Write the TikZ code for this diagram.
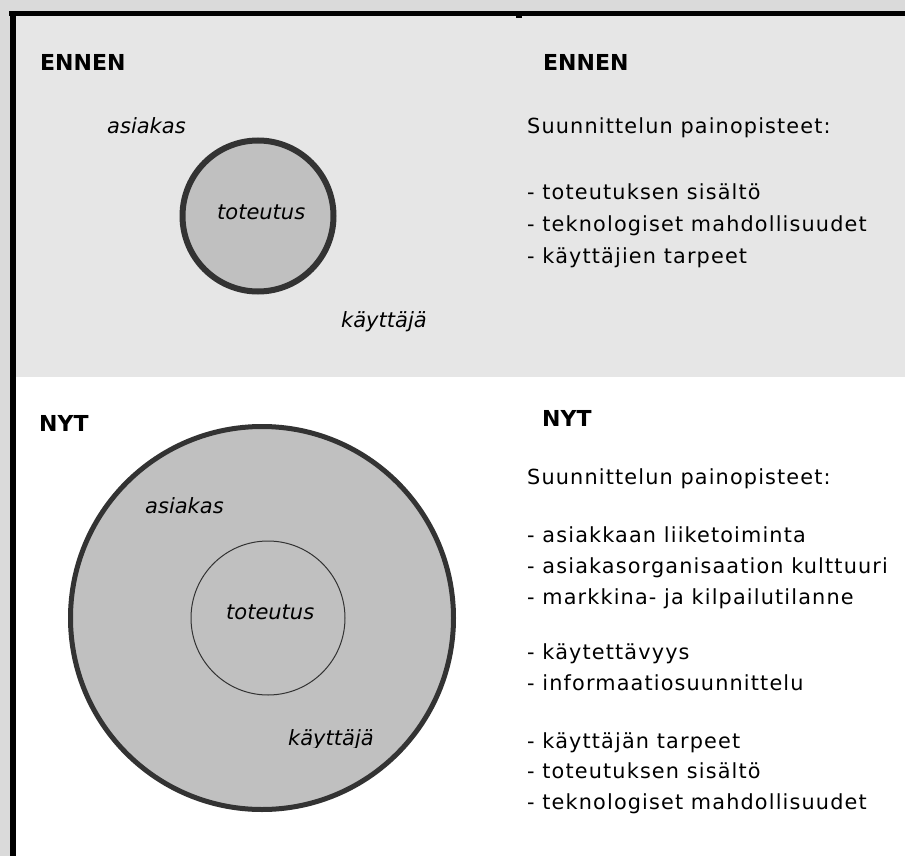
\documentclass[tikz,border=0pt]{standalone}
\usepackage{fontspec}
\setmainfont{DejaVu Sans}
\newfontfamily\spacedfont[LetterSpace=5.5]{DejaVu Sans}
\usepackage{tikz}
\usetikzlibrary{positioning}
\definecolor{panelgray}{HTML}{E6E6E6}
\definecolor{margingray}{HTML}{DADADA}
\definecolor{ringfill}{HTML}{C0C0C0}
\definecolor{ringdraw}{HTML}{333333}
\tikzstyle{heading}=[anchor=base west, inner sep=0pt, font=\fontsize{22}{26}\selectfont\bfseries]
\tikzstyle{point}=[anchor=base west, inner sep=0pt, font=\spacedfont\fontsize{20.8}{24}\selectfont]
\tikzstyle{role}=[anchor=base west, inner sep=0pt, font=\fontsize{21}{25}\selectfont\itshape]
\tikzstyle{ring}=[circle, inner sep=0pt, fill=ringfill, draw=ringdraw]

\begin{document}
\begin{tikzpicture}[x=1pt, y=-1pt]
          \useasboundingbox (0,0) rectangle (905,856);
          \fill[margingray] (0,0) rectangle (905,856);
          \fill[panelgray] (16,16) rectangle (905,377);
          \fill[white] (16,377) rectangle (905,856);
          \fill[black] (9,11) rectangle (905,16);
          \fill[black] (10,11) rectangle (16,856);
          \fill[black] (516,16) rectangle (522,18);
          \node[ring, line width=6pt, minimum size=151pt] (core0) at (258,216){};
          \node[ring, line width=5pt, minimum size=383pt] (client1) at (262,618){};
          \node[ring, line width=1pt, minimum size=154pt] (core1) at (268,618){};
          \node[heading] (before0) at (40,71){ENNEN};
          \node[heading] (before1) at (543,71){ENNEN};
          \node[heading] (now0) at (39,431){NYT};
          \node[heading] (now1) at (542,426){NYT};
          \node[role] (client0) at (107,134){asiakas};
          \node[role] (impl0) at (217,219){toteutus};
          \node[role] (user0) at (341,327){käyttäjä};
          \node[role] (client2) at (145,513){asiakas};
          \node[role] (impl1) at (226,619){toteutus};
          \begin{scope}
            \clip (0,0) rectangle (905,747);
            \node[role] (user1) at (288,745){käyttäjä};
          \end{scope}
          \node[point] (focus0) at (527,134){Suunnittelun painopisteet:};
          \node[point] (focus1) at (527,199){- toteutuksen sisältö};
          \node[point] (focus2) at (527,231){- teknologiset mahdollisuudet};
          \node[point] (focus3) at (527,263){- käyttäjien tarpeet};
          \node[point] (goal0) at (527,484){Suunnittelun painopisteet:};
          \node[point] (goal1) at (527,542){- asiakkaan liiketoiminta};
          \node[point] (goal2) at (527,573){- asiakasorganisaation kulttuuri};
          \node[point] (goal3) at (527,604){- markkina- ja kilpailutilanne};
          \node[point] (goal4) at (527,659){- käytettävyys};
          \node[point] (goal5) at (527,690){- informaatiosuunnittelu};
          \node[point] (goal6) at (527,748){- käyttäjän tarpeet};
          \node[point] (goal7) at (527,778){- toteutuksen sisältö};
          \node[point] (goal8) at (527,809){- teknologiset mahdollisuudet};
        \end{tikzpicture}
\end{document}
